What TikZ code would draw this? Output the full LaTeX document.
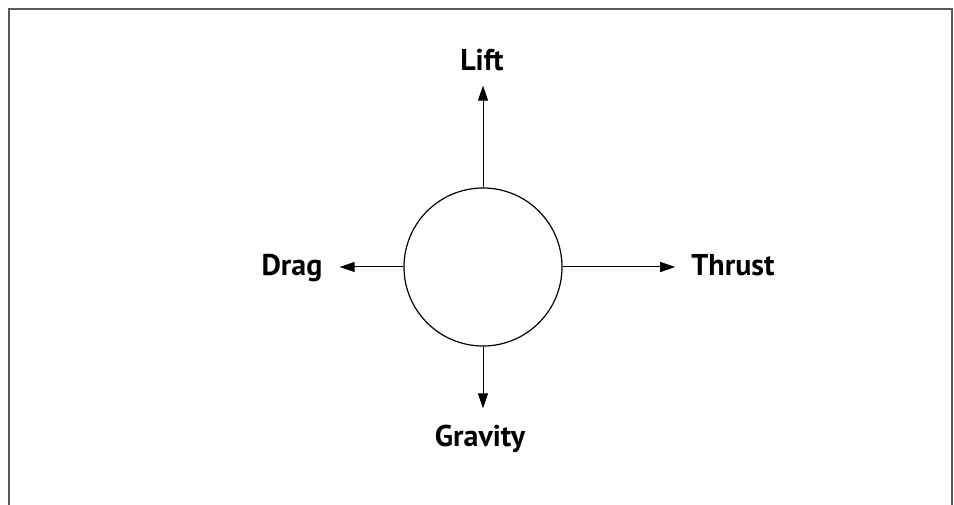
\documentclass[tikz,border=0pt]{standalone}
\usepackage{fontspec}
\setsansfont{PT Sans}
\usetikzlibrary{arrows.meta,positioning}
\definecolor{framegray}{HTML}{595959}

\begin{document}
\begin{tikzpicture}[x=1pt, y=-1pt,
    force/.style={draw, line width=1pt, -{Triangle[length=15pt,width=10pt]}},
    forcelabel/.style={inner sep=0pt, anchor=base, font=\sffamily\bfseries\fontsize{30}{34}\selectfont}]
      \useasboundingbox (0,0) rectangle (954,505);

      % Frame
      \draw[framegray, line width=2pt] (9,505) -- (9,9) -- (952,9) -- (952,505);

      % Nodes
      \node[draw, circle, line width=1.2pt, minimum size=158pt, inner sep=0pt] (body) at (483,267) {};
      \node[forcelabel] (lift) at (482,71) {Lift};
      \node[forcelabel] (drag) at (292,276) {Drag};
      \node[forcelabel] (thrust) at (733,276) {Thrust};
      \node[forcelabel] (gravity) at (480,446) {Gravity};

      % Arrows
      \draw[force, shorten >=14pt] (body.north) -- (body.north |- lift.south);
      \draw[force, shorten >=17pt] (body.west) -- (drag.east |- body.west);
      \draw[force, shorten >=16pt] (body.east) -- (thrust.west |- body.east);
      \draw[force, shorten >=16pt] (body.south) -- (body.south |- gravity.north);
    \end{tikzpicture}
\end{document}
